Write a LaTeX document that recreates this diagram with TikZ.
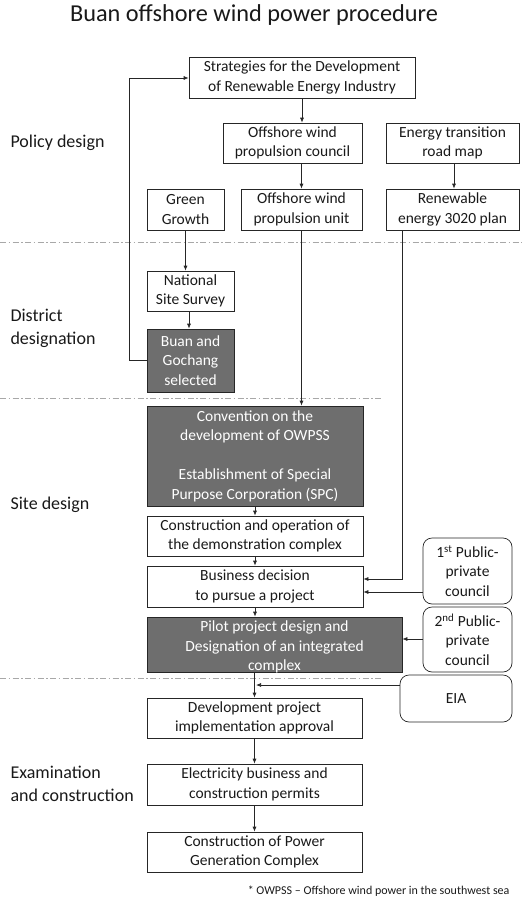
\documentclass[tikz,border=0pt]{standalone}
\usepackage{fontspec}
\setmainfont{Carlito}
\usetikzlibrary{arrows.meta}
\definecolor{boxgray}{HTML}{6E6E6E}
\definecolor{sepgray}{HTML}{A8A8A8}
\begin{document}
\begin{tikzpicture}[x=1pt,y=-1pt,
  box/.style={draw=black!85, line width=0.7pt, align=center, inner sep=0pt,
    font=\fontsize{15.5}{19.5}\selectfont, text=black!90},
  darkbox/.style={box, fill=boxgray, text=white},
  roundbox/.style={box, rounded corners=9pt},
  plaintext/.style={align=center, inner sep=0pt, font=\fontsize{15.5}{19.5}\selectfont},
  arr/.style={draw=black!85, line width=0.7pt, -{Latex[length=5pt,width=4pt]}},
  sep/.style={draw=sepgray, line width=0.7pt, dash pattern=on 6pt off 2.5pt on 1.5pt off 2.5pt},
  phase/.style={anchor=west, align=left, font=\fontsize{18}{23}\selectfont, text=black!90}
]
\useasboundingbox (0,0) rectangle (522,902);

% title
\node[font=\fontsize{24.3}{28}\selectfont, text=black!90] (title) at (254,15) {Buan offshore wind power procedure};

% separators
\draw[sep] (0,242) -- (522,242);
\draw[sep] (0,398) -- (383,398);
\draw[sep] (0,678) -- (383,678);

% phase labels
\node[phase] (p1) at (7,143) {Policy design};
\node[phase] (p2) at (7,328) {District\\designation};
\node[phase] (p3) at (7,505) {Site design};
\node[phase] (p4) at (7,784) {Examination\\and construction};

% boxes
\node[box, minimum width=226pt, minimum height=41pt] (strat) at (302,77.5) {Strategies for the Development\\of Renewable Energy Industry};
\node[box, minimum width=139pt, minimum height=40pt] (council) at (292.5,143) {Offshore wind\\propulsion council};
\node[box, minimum width=133pt, minimum height=40pt] (energy) at (452.5,143) {Energy transition\\road map};
\node[box, minimum width=77pt, minimum height=41pt] (green) at (185.5,209.5) {Green\\Growth};
\node[box, minimum width=121pt, minimum height=41pt] (unit) at (301.5,209.5) {Offshore wind\\propulsion unit};
\node[box, minimum width=133pt, minimum height=41pt] (renew) at (452.5,209.5) {Renewable\\energy 3020 plan};
\node[box, minimum width=87pt, minimum height=40pt] (national) at (190.5,291) {National\\Site Survey};
\node[darkbox, minimum width=87pt, minimum height=63pt] (buan) at (190.5,360.5) {Buan and\\Gochang\\selected};
\node[darkbox, minimum width=216pt, minimum height=100pt] (conv) at (255,456) {Convention on the\\development of OWPSS\\[19.5pt]Establishment of Special\\Purpose Corporation (SPC)};
\node[box, minimum width=216pt, minimum height=40pt] (constr) at (255,536) {Construction and operation of\\the demonstration complex};
\node[box, minimum width=216pt, minimum height=41pt] (bus) at (255,586.5) {Business decision\\to pursue a project};
\node[darkbox, minimum width=255pt, minimum height=55pt] (pilot) at (274.5,644.5) {};
\node[plaintext, text=white] (pilottxt) at (274.5,647) {Pilot project design and\\Designation of an integrated\\complex};
\node[roundbox, minimum width=89pt, minimum height=66pt] (c1) at (467.5,571) {1\textsuperscript{st} Public-\\private\\council};
\node[roundbox, minimum width=89pt, minimum height=65pt] (c2) at (467.5,639.5) {2\textsuperscript{nd} Public-\\private\\council};
\node[roundbox, minimum width=112pt, minimum height=47pt] (eia) at (456,698.5) {EIA};
\node[box, minimum width=215pt, minimum height=40pt] (dev) at (254.5,718) {Development project\\implementation approval};
\node[box, minimum width=215pt, minimum height=41pt] (elec) at (254.5,784.5) {Electricity business and\\construction permits};
\node[box, minimum width=215pt, minimum height=40pt] (gen) at (254.5,852) {Construction of Power\\Generation Complex};

% footnote
\node[anchor=east, font=\fontsize{12}{14}\selectfont, text=black!90] (foot) at (513,891) {* OWPSS -- Offshore wind power in the southwest sea};

% connectors
\draw[arr] (strat.south) -- (strat.south |- council.north);
\draw[arr] (council.south -| unit.north) -- (unit.north);
\draw[arr] (energy.south -| 454,0) -- (454,0 |- renew.north);
\draw[arr] (green.south) -- (green.south |- national.north);
\draw[arr] (national.south -| 189,0) -- (189,0 |- buan.north);
\coordinate (fb1) at (129,360);
\coordinate (fb2) at (129,78);
\draw[arr] (buan.west |- fb1) -- (fb1) -- (fb2) -- (strat.west |- fb2);
\draw[arr] (unit.south) -- (unit.south |- conv.north);
\draw[arr] (conv.south) -- (constr.north);
\draw[arr] (constr.south) -- (bus.north);
\draw[arr] (bus.south) -- (bus.south |- pilot.north);
\coordinate (rn) at (402,579);
\draw[arr] (renew.south -| rn) -- (rn) -- (bus.east |- rn);
\coordinate (c1a) at (423,592);
\draw[arr] (c1.west |- c1a) -- (bus.east |- c1a);
\draw[arr] (c2.west |- 0,639) -- (pilot.east |- 0,639);
\draw[arr] (pilot.south -| dev.north) -- (dev.north);
\coordinate (eiaj) at (256,685);
\draw[arr] (eia.west |- eiaj) -- (eiaj);
\draw[arr] (dev.south) -- (elec.north);
\draw[arr] (elec.south) -- (gen.north);
\end{tikzpicture}
\end{document}
